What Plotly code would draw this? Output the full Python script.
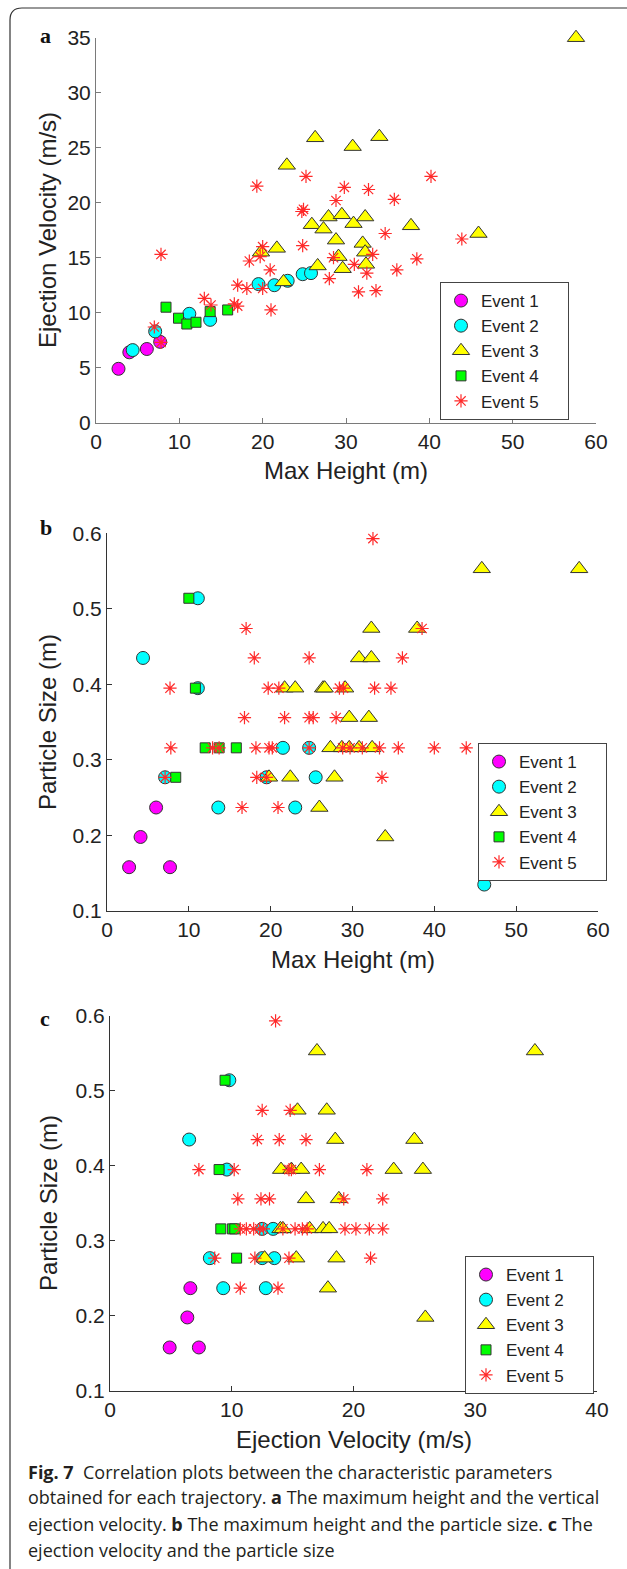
import plotly.graph_objects as go

W, H = 627, 1569

# ---------------- Panel a: Max Height (m) vs Ejection Velocity (m/s) ----------------
a_e1_h = [2.7, 4.0, 6.1, 7.7]
a_e1_v = [4.9, 6.4, 6.7, 7.35]
a_e2_h = [4.4, 7.1, 11.2, 13.7, 19.5, 21.4, 23.0, 24.8, 25.8]
a_e2_v = [6.6, 8.3, 9.9, 9.35, 12.6, 12.5, 12.9, 13.5, 13.6]
a_e3_h = [19.8, 21.7, 22.5, 22.9, 25.9, 26.3, 26.6, 27.3, 27.9, 28.8, 29.1, 29.5,
          29.6, 30.8, 30.9, 32.0, 32.3, 32.3, 32.4, 34.0, 37.8, 45.9, 57.6]
a_e3_v = [15.5, 15.85, 12.8, 23.4, 18.0, 25.9, 14.25, 17.6, 18.7, 16.6, 15.1, 18.9,
          14.0, 25.1, 18.1, 16.3, 18.7, 15.5, 14.4, 26.0, 17.9, 17.2, 35.0]
a_e4_h = [8.4, 9.9, 10.9, 12.0, 13.7, 15.8]
a_e4_v = [10.5, 9.5, 8.97, 9.13, 10.1, 10.25]
a_e5_h = [7.0, 7.8, 7.8, 13.0, 13.8, 16.6, 17.0, 17.0, 18.1, 20.0, 18.4, 19.7,
          20.0, 20.9, 21.0, 19.3, 24.7, 24.9, 24.8, 25.2, 28.0, 28.5, 28.8, 29.8,
          31.0, 31.5, 32.5, 32.7, 33.2, 33.6, 34.7, 35.8, 36.1, 38.5, 40.2, 43.9]
a_e5_v = [8.7, 7.3, 15.3, 11.3, 10.7, 10.8, 10.6, 12.5, 12.2, 12.2, 14.7, 15.1,
          16.0, 13.9, 10.25, 21.5, 19.2, 19.4, 16.1, 22.4, 13.1, 15.0, 20.2, 21.4,
          14.4, 11.9, 13.6, 21.2, 15.3, 12.0, 17.2, 20.3, 13.9, 14.9, 22.4, 16.7]

# ---------------- Panel b: Max Height (m) vs Particle Size (m) ----------------
b_e1_h = [2.7, 4.1, 6.0, 7.7]
b_e1_s = [0.158, 0.198, 0.237, 0.158]
b_e2_h = [4.4, 7.1, 11.1, 11.1, 13.6, 19.5, 21.5, 23.0, 24.7, 25.5, 46.1]
b_e2_s = [0.435, 0.277, 0.514, 0.395, 0.237, 0.277, 0.316, 0.237, 0.316, 0.277, 0.135]
b_e3_h = [45.8, 57.7, 32.3, 37.9, 30.8, 32.3, 21.7, 23.0, 26.4, 26.6, 29.1, 29.6,
          32.0, 27.3, 28.7, 29.6, 30.8, 32.4, 19.8, 22.4, 27.8, 25.95, 34.0]
b_e3_s = [0.553, 0.553, 0.474, 0.474, 0.435, 0.435, 0.395, 0.395, 0.395, 0.395, 0.395, 0.356,
          0.356, 0.316, 0.316, 0.316, 0.316, 0.316, 0.277, 0.277, 0.277, 0.237, 0.198]
b_e4_h = [10.0, 10.8, 12.0, 13.7, 15.8, 8.4]
b_e4_s = [0.514, 0.395, 0.316, 0.316, 0.316, 0.277]
b_e5_h = [32.5, 17.0, 38.5, 18.0, 24.7, 36.1, 7.7, 19.7, 21.0, 28.4, 28.9, 32.7, 34.7,
          16.8, 21.7, 24.7, 25.2, 28.0,
          7.8, 12.9, 13.7, 18.2, 19.8, 20.2, 24.7, 28.8, 29.7, 31.2, 33.3, 35.6, 40.0, 43.9,
          7.1, 18.3, 19.5, 33.6, 16.5, 20.9]
b_e5_s = [0.593, 0.474, 0.474, 0.435, 0.435, 0.435, 0.395, 0.395, 0.395, 0.395, 0.395, 0.395, 0.395,
          0.356, 0.356, 0.356, 0.356, 0.356,
          0.316, 0.316, 0.316, 0.316, 0.316, 0.316, 0.316, 0.316, 0.316, 0.316, 0.316, 0.316, 0.316, 0.316,
          0.277, 0.277, 0.277, 0.277, 0.237, 0.237]

# ---------------- Panel c: Ejection Velocity (m/s) vs Particle Size (m) ----------------
c_e1_v = [4.9, 6.35, 6.6, 7.3]
c_e1_s = [0.158, 0.198, 0.237, 0.158]
c_e2_v = [6.5, 8.2, 9.8, 9.6, 9.3, 12.5, 12.5, 12.8, 13.4, 13.5]
c_e2_s = [0.435, 0.277, 0.514, 0.395, 0.237, 0.316, 0.277, 0.237, 0.316, 0.277]
c_e3_v = [17.0, 34.9, 15.4, 17.8, 18.5, 25.0, 14.05, 14.9, 15.7, 23.3, 25.7, 16.1,
          18.8, 14.0, 14.2, 16.4, 17.5, 18.0, 12.7, 15.3, 18.6, 17.9, 25.9]
c_e3_s = [0.553, 0.553, 0.474, 0.474, 0.435, 0.435, 0.395, 0.395, 0.395, 0.395, 0.395, 0.356,
          0.356, 0.316, 0.316, 0.316, 0.316, 0.316, 0.277, 0.277, 0.277, 0.237, 0.198]
c_e4_v = [9.45, 8.96, 9.1, 10.05, 10.25, 10.4]
c_e4_s = [0.514, 0.395, 0.316, 0.316, 0.316, 0.277]
c_e5_v = [13.6, 12.5, 14.8, 12.1, 13.9, 16.1, 7.3, 10.2, 14.7, 14.9, 17.2, 21.1,
          10.5, 12.4, 13.1, 19.2, 22.4,
          10.7, 11.2, 11.8, 12.3, 12.6, 14.2, 15.2, 15.8, 16.2, 19.3, 20.2, 21.3, 22.4,
          8.6, 11.9, 14.7, 21.4, 10.7, 13.8]
c_e5_s = [0.593, 0.474, 0.474, 0.435, 0.435, 0.435, 0.395, 0.395, 0.395, 0.395, 0.395, 0.395,
          0.356, 0.356, 0.356, 0.356, 0.356,
          0.316, 0.316, 0.316, 0.316, 0.316, 0.316, 0.316, 0.316, 0.316, 0.316, 0.316, 0.316, 0.316,
          0.277, 0.277, 0.277, 0.277, 0.237, 0.237]

event_names = ["Event 1", "Event 2", "Event 3", "Event 4", "Event 5"]

# ---------------- styling ----------------
EDGE = "#333333"
styles = [
    dict(symbol="circle", size=13, color="#ff00ff", line=dict(color=EDGE, width=1)),
    dict(symbol="circle", size=13, color="#00ffff", line=dict(color=EDGE, width=1)),
    dict(symbol="triangle-up", size=15, color="#ffff00", line=dict(color=EDGE, width=1)),
    dict(symbol="square", size=10, color="#00ff00", line=dict(color=EDGE, width=1)),
    dict(symbol="asterisk-open", size=11, color="#ff2a2a", line=dict(color="#ff2a2a", width=1.2)),
]

SANS = "Arial"
PAD = "\u00a0" * 5  # widens the legend box like the original

def px_x(p):
    return p / W

def px_y(p):
    return 1 - p / H

fig = go.Figure()

panels = [
    ("x", "y", "legend",
     [(a_e1_h, a_e1_v), (a_e2_h, a_e2_v), (a_e3_h, a_e3_v), (a_e4_h, a_e4_v), (a_e5_h, a_e5_v)]),
    ("x2", "y2", "legend2",
     [(b_e1_h, b_e1_s), (b_e2_h, b_e2_s), (b_e3_h, b_e3_s), (b_e4_h, b_e4_s), (b_e5_h, b_e5_s)]),
    ("x3", "y3", "legend3",
     [(c_e1_v, c_e1_s), (c_e2_v, c_e2_s), (c_e3_v, c_e3_s), (c_e4_v, c_e4_s), (c_e5_v, c_e5_s)]),
]

for xa, ya, leg, series in panels:
    for name, (xs, ys), st in zip(event_names, series, styles):
        fig.add_trace(go.Scatter(
            x=xs, y=ys, mode="markers", name=name + PAD, xaxis=xa, yaxis=ya, legend=leg,
            marker=st, cliponaxis=False, showlegend=True,
        ))

TICKFONT = dict(family=SANS, size=21, color="#222222")

def axis(domain, rng, dtick, tick0, color, anchor):
    return dict(domain=domain, range=rng, autorange=False, dtick=dtick, tick0=tick0,
                showline=True, linecolor=color, linewidth=1, mirror=False,
                ticks="inside", ticklen=5, tickcolor=color, tickwidth=1,
                showgrid=False, zeroline=False, tickfont=TICKFONT, anchor=anchor,
                fixedrange=True, automargin=False)

layout = dict(
    width=W, height=H,
    margin=dict(l=0, r=0, t=0, b=0, pad=0, autoexpand=False),
    paper_bgcolor="white", plot_bgcolor="rgba(0,0,0,0)",
    font=dict(family=SANS, color="#222222"),
    xaxis=axis([px_x(96), px_x(596)], [0, 60], 10, 0, "#7a7a7a", "y"),
    yaxis=axis([px_y(422.7), px_y(37.7)], [0, 35], 5, 0, "#7a7a7a", "x"),
    xaxis2=axis([px_x(107), px_x(598)], [0, 60], 10, 0, "#333333", "y2"),
    yaxis2=axis([px_y(911), px_y(533.3)], [0.1, 0.6], 0.1, 0.1, "#333333", "x2"),
    xaxis3=axis([px_x(110), px_x(597)], [0, 40], 10, 0, "#333333", "y3"),
    yaxis3=axis([px_y(1391), px_y(1015.7)], [0.1, 0.6], 0.1, 0.1, "#333333", "x3"),
    showlegend=True,
)

def legend_at(left, top):
    return dict(x=px_x(left), y=px_y(top), xanchor="left", yanchor="top",
                bgcolor="white", bordercolor="#444444", borderwidth=1,
                font=dict(family=SANS, size=17, color="#222222"),
                tracegroupgap=0, itemclick=False, itemdoubleclick=False)

layout["legend"] = legend_at(440, 282)
layout["legend2"] = legend_at(478, 743)
layout["legend3"] = legend_at(465, 1256)

fig.update_layout(**layout)

TITLEFONT = dict(family=SANS, size=24, color="#222222")
ann = []
# axis titles
ann.append(dict(text="Ejection Velocity (m/s)", x=px_x(47), y=px_y(230), textangle=-90, font=TITLEFONT))
ann.append(dict(text="Max Height (m)", x=px_x(346), y=px_y(470), font=TITLEFONT))
ann.append(dict(text="Particle Size (m)", x=px_x(47), y=px_y(722), textangle=-90, font=TITLEFONT))
ann.append(dict(text="Max Height (m)", x=px_x(352.5), y=px_y(959), font=TITLEFONT))
ann.append(dict(text="Particle Size (m)", x=px_x(48), y=px_y(1203), textangle=-90, font=TITLEFONT))
ann.append(dict(text="Ejection Velocity (m/s)", x=px_x(353.5), y=px_y(1439), font=TITLEFONT))
# panel letters
LETTER = dict(family="Liberation Serif", size=22, color="#111111")
ann.append(dict(text="<b>a</b>", x=px_x(45), y=px_y(35), font=LETTER))
ann.append(dict(text="<b>b</b>", x=px_x(46), y=px_y(527), font=LETTER))
ann.append(dict(text="<b>c</b>", x=px_x(45), y=px_y(1018), font=LETTER))
# caption
CAP = dict(family="Open Sans", size=18, color="#231f20")
caption_lines = [
    "<b>Fig. 7</b>  Correlation plots between the characteristic parameters",
    "obtained for each trajectory. <b>a</b> The maximum height and the vertical",
    "ejection velocity. <b>b</b> The maximum height and the particle size. <b>c</b> The",
    "ejection velocity and the particle size",
]
for line, yc in zip(caption_lines, [1472, 1497, 1524, 1550]):
    ann.append(dict(text=line, x=px_x(26), y=px_y(yc), xanchor="left", font=CAP))

for a in ann:
    a.setdefault("xanchor", "center")
    a.update(xref="paper", yref="paper", yanchor="middle", showarrow=False)
fig.update_layout(annotations=ann)

# rounded frame around the figure (top and left edges visible)
x0, y0, r = 10, 8, 12
path = (f"M {1.05},{px_y(y0)} L {px_x(x0 + r)},{px_y(y0)} "
        f"Q {px_x(x0)},{px_y(y0)} {px_x(x0)},{px_y(y0 + r)} L {px_x(x0)},{-0.05}")
fig.add_shape(type="path", path=path, xref="paper", yref="paper",
              line=dict(color="#333333", width=1.2), layer="above")

fig.write_html(
    "out.html",
    config={"displayModeBar": False, "responsive": False},
    post_script="document.body.style.margin='0';document.body.style.overflow='hidden';",
)
